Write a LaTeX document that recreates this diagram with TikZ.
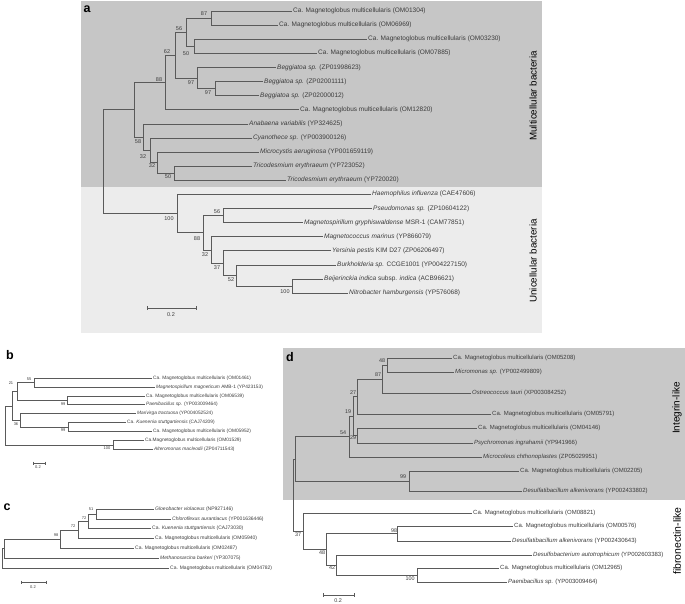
\documentclass[tikz,border=0pt]{standalone}
\usepackage{fontspec}
\setmainfont{Liberation Sans}
\definecolor{linec}{HTML}{5A5A5A}
\definecolor{txtc}{HTML}{3C3C3C}
\definecolor{boxdark}{HTML}{C6C6C6}
\definecolor{boxlight}{HTML}{ECECEC}
\definecolor{boxd}{HTML}{C8C8C8}
\newcommand\cam{Ca. Magnetoglobus multicellularis}
\tikzset{
  br/.style={draw=linec, line width=0.6pt},
  lfa/.style={anchor=west, inner xsep=1pt, inner ysep=0pt, text=txtc, font=\fontsize{6.5}{7}\selectfont},
  lfb/.style={anchor=west, inner xsep=1pt, inner ysep=0pt, text=txtc, font=\fontsize{4.8}{5}\selectfont},
  lfc/.style={anchor=west, inner xsep=1pt, inner ysep=0pt, text=txtc, font=\fontsize{5}{5.5}\selectfont},
  lfd/.style={anchor=west, inner xsep=1pt, inner ysep=0pt, text=txtc, font=\fontsize{6}{6.5}\selectfont},
  bsa/.style={inner sep=0pt, text=txtc, font=\fontsize{5.5}{6}\selectfont},
  bsb/.style={inner sep=0pt, text=txtc, font=\fontsize{4}{4.5}\selectfont},
  bsd/.style={inner sep=0pt, text=txtc, font=\fontsize{5.4}{6}\selectfont},
  plab/.style={inner sep=0pt, font=\fontsize{12.5}{13}\selectfont\bfseries},
  rot/.style={rotate=90, inner sep=0pt, font=\fontsize{9.8}{10}\selectfont},
}
\begin{document}
\begin{tikzpicture}[x=1pt,y=-1pt]
\useasboundingbox (0,0) rectangle (685,603);
% backgrounds
\fill[boxdark] (81,1) rectangle (542,187);
\fill[boxlight] (81,187) rectangle (542,333);
\fill[boxd] (283,348) rectangle (685,500);

% ================= panel a =================
\node[plab] (pa) at (87,9) {a};
\coordinate (aR) at (103,161.6);
\coordinate (aMC) at (134,109.7);
\coordinate (a88) at (165,82.3);
\coordinate (a62) at (175,55);
\coordinate (a56) at (186,32);
\coordinate (a87) at (211,18);
\coordinate (a50) at (194,46);
\coordinate (aB1) at (197,78);
\coordinate (aB2) at (215,88.5);
\coordinate (a58) at (143,137);
\coordinate (a32a) at (150,150.2);
\coordinate (a32b) at (157,162.6);
\coordinate (a50b) at (174,173.2);
\coordinate (aU) at (177,213.5);
\coordinate (aU88) at (203,232.7);
\coordinate (aU56) at (223,215.5);
\coordinate (aU32) at (211,249.8);
\coordinate (aU37) at (223,263);
\coordinate (aU52) at (236,275.4);
\coordinate (aU100) at (292,286);

\node[lfa] (A1) at (292,11) {\cam{} (OM01304)};
\node[lfa] (A2) at (278,25) {\cam{} (OM06969)};
\node[lfa] (A3) at (367,39) {\cam{} (OM03230)};
\node[lfa] (A4) at (317,53) {\cam{} (OM07885)};
\node[lfa] (A5) at (276,67.4) {\textit{Beggiatoa sp.} (ZP01998623)};
\node[lfa] (A6) at (263,81.5) {\textit{Beggiatoa sp.} (ZP02001111)};
\node[lfa] (A7) at (259,95.6) {\textit{Beggiatoa sp.} (ZP02000012)};
\node[lfa] (A8) at (299,109.7) {\cam{} (OM12820)};
\node[lfa] (A9) at (248,123.8) {\textit{Anabaena variabilis} (YP324625)};
\node[lfa] (A10) at (252,137.9) {\textit{Cyanothece sp.} (YP003900126)};
\node[lfa] (A11) at (259,152) {\textit{Microcystis aeruginosa} (YP001659119)};
\node[lfa] (A12) at (252,166.1) {\textit{Tricodesmium erythraeum} (YP723052)};
\node[lfa] (A13) at (286,180.2) {\textit{Tricodesmium erythraeum} (YP720020)};
\node[lfa] (A14) at (371,194.3) {\textit{Haemophilus influenza} (CAE47606)};
\node[lfa] (A15) at (372,208.4) {\textit{Pseudomonas sp.} (ZP10604122)};
\node[lfa] (A16) at (303,222.5) {\textit{Magnetospirillum gryphiswaldense} MSR-1 (CAM77851)};
\node[lfa] (A17) at (323,236.6) {\textit{Magnetococcus marinus} (YP866079)};
\node[lfa] (A18) at (331,250.7) {\textit{Yersinia pestis} KIM D27 (ZP06206497)};
\node[lfa] (A19) at (336,264.8) {\textit{Burkholderia sp.} CCGE1001 (YP004227150)};
\node[lfa] (A20) at (323,278.9) {\textit{Beijerinckia indica} subsp. \textit{indica} (ACB96621)};
\node[lfa] (A21) at (348,293) {\textit{Nitrobacter hamburgensis} (YP576068)};

\draw[br] (aR) |- (aMC); \draw[br] (aR) |- (aU);
\draw[br] (aMC) |- (a88); \draw[br] (aMC) |- (a58);
\draw[br] (a88) |- (a62); \draw[br] (a88) |- (A8.west);
\draw[br] (a62) |- (a56); \draw[br] (a62) |- (aB1);
\draw[br] (a56) |- (a87); \draw[br] (a56) |- (a50);
\draw[br] (a87) |- (A1.west); \draw[br] (a87) |- (A2.west);
\draw[br] (a50) |- (A3.west); \draw[br] (a50) |- (A4.west);
\draw[br] (aB1) |- (A5.west); \draw[br] (aB1) |- (aB2);
\draw[br] (aB2) |- (A6.west); \draw[br] (aB2) |- (A7.west);
\draw[br] (a58) |- (A9.west); \draw[br] (a58) |- (a32a);
\draw[br] (a32a) |- (A10.west); \draw[br] (a32a) |- (a32b);
\draw[br] (a32b) |- (A11.west); \draw[br] (a32b) |- (a50b);
\draw[br] (a50b) |- (A12.west); \draw[br] (a50b) |- (A13.west);
\draw[br] (aU) |- (A14.west); \draw[br] (aU) |- (aU88);
\draw[br] (aU88) |- (aU56); \draw[br] (aU88) |- (aU32);
\draw[br] (aU56) |- (A15.west); \draw[br] (aU56) |- (A16.west);
\draw[br] (aU32) |- (A17.west); \draw[br] (aU32) |- (aU37);
\draw[br] (aU37) |- (A18.west); \draw[br] (aU37) |- (aU52);
\draw[br] (aU52) |- (A19.west); \draw[br] (aU52) |- (aU100);
\draw[br] (aU100) |- (A20.west); \draw[br] (aU100) |- (A21.west);

\node[bsa] (ta87) at (204,14) {87};
\node[bsa] (ta50) at (186,54) {50};
\node[bsa] (ta56) at (179,29) {56};
\node[bsa] (ta62) at (167,52) {62};
\node[bsa] (ta88) at (159,80) {88};
\node[bsa] (ta97a) at (191,83) {97};
\node[bsa] (ta97b) at (208,93) {97};
\node[bsa] (ta58) at (138,142) {58};
\node[bsa] (ta32a) at (143,157) {32};
\node[bsa] (ta32b) at (152,166) {32};
\node[bsa] (ta50b) at (168,177) {50};
\node[bsa] (tau100) at (169,219) {100};
\node[bsa] (tau88) at (197,239) {88};
\node[bsa] (tau56) at (217,212) {56};
\node[bsa] (tau32) at (205,255) {32};
\node[bsa] (tau37) at (217,268) {37};
\node[bsa] (tau52) at (231,280) {52};
\node[bsa] (tau100b) at (285,292) {100};

\coordinate (sa1) at (147,308); \coordinate (sa2) at (196,308);
\draw[br] (sa1) -- (sa2);
\draw[br] ([yshift=2pt]sa1) -- ([yshift=-2pt]sa1);
\draw[br] ([yshift=2pt]sa2) -- ([yshift=-2pt]sa2);
\node[bsa] (sal) at (171,315) {0.2};

\node[rot] (lmc) at (533,96) {Multicellular bacteria};
\node[rot] (luc) at (533,261) {Unicellular bacteria};

% ================= panel b =================
\node[plab] (pb) at (10,355) {b};
\coordinate (bR) at (5,425.3);
\coordinate (bUp) at (12,405.8);
\coordinate (b21) at (17,391.4);
\coordinate (b55) at (34,382.5);
\coordinate (b99a) at (67,400.3);
\coordinate (b36) at (20,420.3);
\coordinate (b99b) at (68,427);
\coordinate (b100) at (113,444.8);

\node[lfb] (B1) at (152,378) {\cam{} (OM01461)};
\node[lfb] (B2) at (155,386.9) {\textit{Magnetospirillum magneticum} AMB-1 (YP423153)};
\node[lfb] (B3) at (145,395.8) {\cam{} (OM06539)};
\node[lfb] (B4) at (145,404.7) {\textit{Paenibacillus sp.} (YP003009464)};
\node[lfb] (B5) at (136,413.6) {\textit{Marivirga tractuosa} (YP004052524)};
\node[lfb] (B6) at (126,422.5) {Ca. \textit{Kuenenia stuttgartiensis} (CAJ74209)};
\node[lfb] (B7) at (152,431.4) {\cam{} (OM05952)};
\node[lfb] (B8) at (144,440.3) {Ca.Magnetoglobus multicellularis (OM01529)};
\node[lfb] (B9) at (153,449.2) {\textit{Alteromonas macleodii} (ZP04711543)};

\draw[br] (bR) |- (bUp); \draw[br] (bR) |- (b100);
\draw[br] (bUp) |- (b21); \draw[br] (bUp) |- (b36);
\draw[br] (b21) |- (b55); \draw[br] (b21) |- (b99a);
\draw[br] (b55) |- (B1.west); \draw[br] (b55) |- (B2.west);
\draw[br] (b99a) |- (B3.west); \draw[br] (b99a) |- (B4.west);
\draw[br] (b36) |- (B5.west); \draw[br] (b36) |- (b99b);
\draw[br] (b99b) |- (B6.west); \draw[br] (b99b) |- (B7.west);
\draw[br] (b100) |- (B8.west); \draw[br] (b100) |- (B9.west);

\node[bsb] (tb21) at (11,383) {21};
\node[bsb] (tb55) at (29,379) {55};
\node[bsb] (tb99a) at (63,404) {99};
\node[bsb] (tb36) at (16,424) {36};
\node[bsb] (tb99b) at (63,430) {99};
\node[bsb] (tb100) at (107,448) {100};

\coordinate (sb1) at (33,463); \coordinate (sb2) at (45,463);
\draw[br] (sb1) -- (sb2);
\draw[br] ([yshift=1.5pt]sb1) -- ([yshift=-1.5pt]sb1);
\draw[br] ([yshift=1.5pt]sb2) -- ([yshift=-1.5pt]sb2);
\node[bsb] (sbl) at (38,467.5) {0.2};

% ================= panel c =================
\node[plab] (pc) at (7,507) {c};
\coordinate (cR) at (2,558.2);
\coordinate (cB) at (4,548.5);
\coordinate (c98) at (60,539);
\coordinate (c72b) at (78,529.8);
\coordinate (c72a) at (88,521.3);
\coordinate (c51) at (96,513.9);

\node[lfc] (C1) at (154,509) {\textit{Gloeobacter violaceus} (NP927146)};
\node[lfc] (C2) at (171,518.8) {\textit{Chloroflexus aurantiacus} (YP001636446)};
\node[lfc] (C3) at (151,528.6) {Ca. \textit{Kuenenia stuttgartiensis} (CAJ73030)};
\node[lfc] (C4) at (154,538.4) {\cam{} (OM05940)};
\node[lfc] (C5) at (134,548.2) {\cam{} (OM02487)};
\node[lfc] (C6) at (159,558) {\textit{Methanosarcina barkeri} (YP307075)};
\node[lfc] (C7) at (169,567.8) {\cam{} (OM04782)};

\draw[br] (cR) |- (cB); \draw[br] (cR) |- (C7.west);
\draw[br] (cB) |- (c98); \draw[br] (cB) |- (C6.west);
\draw[br] (c98) |- (c72b); \draw[br] (c98) |- (C5.west);
\draw[br] (c72b) |- (c72a); \draw[br] (c72b) |- (C4.west);
\draw[br] (c72a) |- (c51); \draw[br] (c72a) |- (C3.west);
\draw[br] (c51) |- (C1.west); \draw[br] (c51) |- (C2.west);

\node[bsb] (tc51) at (91,509) {51};
\node[bsb] (tc72a) at (84,518) {72};
\node[bsb] (tc72b) at (73,526) {72};
\node[bsb] (tc98) at (56,535) {98};

\coordinate (sc1) at (21,582); \coordinate (sc2) at (46,582);
\draw[br] (sc1) -- (sc2);
\draw[br] ([yshift=1.5pt]sc1) -- ([yshift=-1.5pt]sc1);
\draw[br] ([yshift=1.5pt]sc2) -- ([yshift=-1.5pt]sc2);
\node[bsb] (scl) at (33,587) {0.2};

% ================= panel d =================
\node[plab] (pd) at (290,357) {d};
\coordinate (dR) at (293,494.9);
\coordinate (dInt) at (295,458.8);
\coordinate (d54) at (349,436.5);
\coordinate (d19) at (353,416);
\coordinate (d27) at (357,396.5);
\coordinate (d29) at (357,435.5);
\coordinate (d87) at (382,379);
\coordinate (d48) at (387,365);
\coordinate (d99) at (409,481);
\coordinate (d37) at (303,531);
\coordinate (d48f) at (326,549.3);
\coordinate (d98) at (397,533.5);
\coordinate (d42) at (336,565);
\coordinate (d100) at (417,575);

\node[lfd] (D1) at (452,358) {\cam{} (OM05208)};
\node[lfd] (D2) at (454,372) {\textit{Micromonas sp.} (YP002499809)};
\node[lfd] (D3) at (471,393) {\textit{Ostreococcus tauri} (XP003084252)};
\node[lfd] (D4) at (491,414) {\cam{} (OM05791)};
\node[lfd] (D5) at (477,428) {\cam{} (OM04146)};
\node[lfd] (D6) at (473,443) {\textit{Psychromonas ingrahamii} (YP941966)};
\node[lfd] (D7) at (482,457) {\textit{Microcoleus chthonoplastes} (ZP05029951)};
\node[lfd] (D8) at (519,471) {\cam{} (OM02205)};
\node[lfd] (D9) at (522,491) {\textit{Desulfatibacillum alkenivorans} (YP002433802)};
\node[lfd] (D10) at (472,513) {\cam{} (OM08821)};
\node[lfd] (D11) at (513,526) {\cam{} (OM00576)};
\node[lfd] (D12) at (511,541) {\textit{Desulfatibacillum alkenivorans} (YP002430643)};
\node[lfd] (D13) at (532,555) {\textit{Desulfobacterium autotrophicum} (YP002603383)};
\node[lfd] (D14) at (499,568) {\cam{} (OM12965)};
\node[lfd] (D15) at (507,582) {\textit{Paenibacillus sp.} (YP003009464)};

\draw[br] (dR) |- (dInt); \draw[br] (dR) |- (d37);
\draw[br] (dInt) |- (d54); \draw[br] (dInt) |- (d99);
\draw[br] (d54) |- (d19); \draw[br] (d54) |- (D7.west);
\draw[br] (d19) |- (d27); \draw[br] (d19) |- (d29);
\draw[br] (d27) |- (d87); \draw[br] (d27) |- (D4.west);
\draw[br] (d87) |- (d48); \draw[br] (d87) |- (D3.west);
\draw[br] (d48) |- (D1.west); \draw[br] (d48) |- (D2.west);
\draw[br] (d29) |- (D5.west); \draw[br] (d29) |- (D6.west);
\draw[br] (d99) |- (D8.west); \draw[br] (d99) |- (D9.west);
\draw[br] (d37) |- (D10.west); \draw[br] (d37) |- (d48f);
\draw[br] (d48f) |- (d98); \draw[br] (d48f) |- (d42);
\draw[br] (d98) |- (D11.west); \draw[br] (d98) |- (D12.west);
\draw[br] (d42) |- (D13.west); \draw[br] (d42) |- (d100);
\draw[br] (d100) |- (D14.west); \draw[br] (d100) |- (D15.west);

\node[bsd] (td48) at (382,361) {48};
\node[bsd] (td87) at (378,375) {87};
\node[bsd] (td27) at (353,393) {27};
\node[bsd] (td19) at (348,412) {19};
\node[bsd] (td54) at (343,433) {54};
\node[bsd] (td29) at (353,438) {29};
\node[bsd] (td99) at (403,477) {99};
\node[bsd] (td37) at (298,535) {37};
\node[bsd] (td98) at (394,531) {98};
\node[bsd] (td48f) at (322,553) {48};
\node[bsd] (td42) at (332,568) {42};
\node[bsd] (td100) at (410,579) {100};

\coordinate (sd1) at (323,595); \coordinate (sd2) at (354,595);
\draw[br] (sd1) -- (sd2);
\draw[br] ([yshift=2pt]sd1) -- ([yshift=-2pt]sd1);
\draw[br] ([yshift=2pt]sd2) -- ([yshift=-2pt]sd2);
\node[bsd] (sdl) at (338,600.5) {0.2};

\node[rot, font=\fontsize{10}{10}\selectfont] (lint) at (677,408) {Integrin-like};
\node[rot, font=\fontsize{10.5}{10}\selectfont] (lfib) at (677,541) {fibronectin-like};
\end{tikzpicture}
\end{document}
